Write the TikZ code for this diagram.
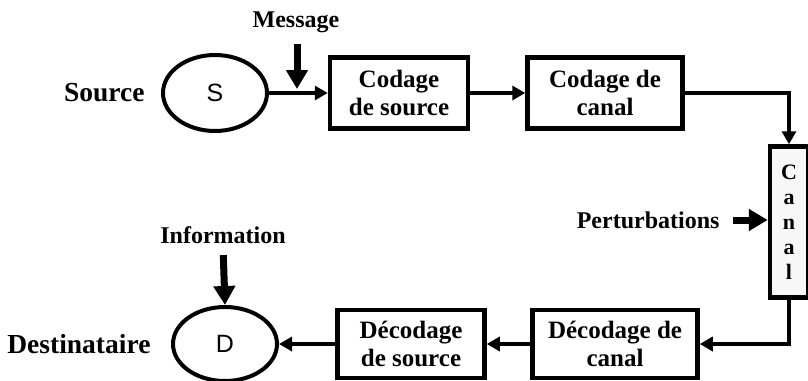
\documentclass[tikz,border=0pt]{standalone}
\usepackage{fontspec}
\setmainfont{Liberation Serif}
\newfontfamily\letterfont{Liberation Sans}
\usetikzlibrary{positioning, shapes.geometric, arrows.meta}

\begin{document}
\begin{tikzpicture}[x=1pt, y=-1pt,
    bloc/.style = {draw, line width=4.5pt, fill=white, minimum height=71pt,
                   align=center, inner sep=0pt, font=\bfseries\fontsize{25}{28}\selectfont},
    bulle/.style = {draw, ellipse, line width=4pt, minimum width=104pt, minimum height=76pt,
                    inner sep=0pt, font=\letterfont\fontsize{25}{28}\selectfont},
    titre/.style = {font=\bfseries\fontsize{27.5}{32}\selectfont},
    legende/.style = {font=\bfseries\fontsize{24}{28}\selectfont},
    lien/.style = {line width=3.5pt, -{Triangle[length=13pt, width=14pt]}},
    fleche/.style = {line width=7pt, -{Triangle[length=19pt, width=21pt]}}]
    \useasboundingbox (0,0) rectangle (808,380);
    % chaine d'emission
    \node[bulle] (src) at (215,93) {S};
    \node[titre, left=13pt of src] (srclabel) {Source};
    \node[bloc, minimum width=138pt] (cs) at (399,93) {Codage\\de source};
    \node[bloc, minimum width=155pt] (cc) at (605,93) {Codage de\\canal};
    \node[bloc, minimum width=38pt, minimum height=151pt, fill=gray!6,
          font=\bfseries\fontsize{22}{25}\selectfont] (canal) at (789,222) {C\\a\\n\\a\\l};
    % chaine de reception
    \node[bloc, minimum width=165pt, minimum height=68pt] (dc) at (615,344) {Décodage de\\canal};
    \node[bloc, minimum width=147pt, minimum height=68pt] (ds) at (411,344) {Décodage\\de source};
    \node[bulle, minimum height=74pt] (dst) at (225,344) {D};
    \node[titre, left=17pt of dst] (dstlabel) {Destinataire};
    % entrees
    \node[legende] (msg) at (296,22) {Message};
    \coordinate (msgpt) at (297,89);
    \node[legende, anchor=east] (pert) at (723,220) {Perturbations};
    \node[legende] (info) at (223,235) {Information};

    \draw[lien] (src.east) -- (cs.west);
    \draw[lien] (cs) -- (cc);
    \draw[lien] (cc.east) -| (canal.north);
    \draw[lien] (canal.south) |- (dc.east);
    \draw[lien] (dc) -- (ds);
    \draw[lien] (ds) -- (dst);

    \draw[fleche, shorten <=8pt] (msg.south -| msgpt) -- (msgpt);
    \draw[fleche, shorten <=10pt] (pert.east) -- (pert.east -| canal.west);
    \draw[fleche, shorten <=8pt] (info.south) -- (dst.north);
\end{tikzpicture}
\end{document}
